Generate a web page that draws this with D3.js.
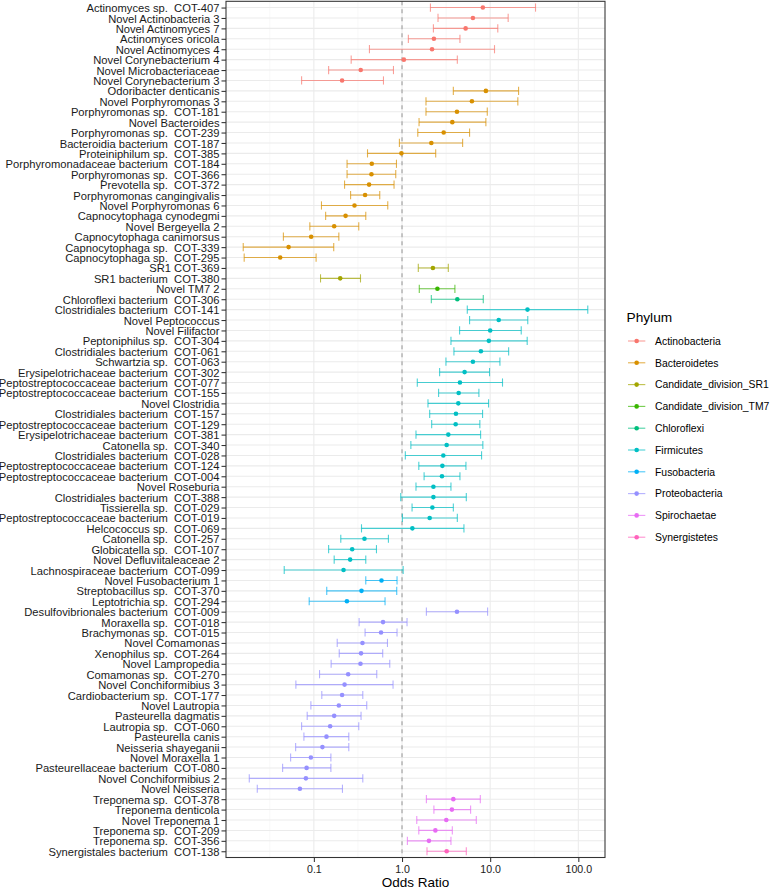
<!DOCTYPE html>
<html><head><meta charset="utf-8">
<script src="https://cdn.jsdelivr.net/npm/d3@7"></script>
<style>body{margin:0;background:#fff}svg{display:block}</style>
</head><body>
<script>
const taxa = ["Actinomyces sp.  COT-407","Novel Actinobacteria 3","Novel Actinomyces 7","Actinomyces oricola","Novel Actinomyces 4","Novel Corynebacterium 4","Novel Microbacteriaceae","Novel Corynebacterium 3",
"Odoribacter denticanis","Novel Porphyromonas 3","Porphyromonas sp.  COT-181","Novel Bacteroides","Porphyromonas sp.  COT-239","Bacteroidia bacterium  COT-187","Proteiniphilum sp.  COT-385","Porphyromonadaceae bacterium  COT-184","Porphyromonas sp.  COT-366","Prevotella sp.  COT-372","Porphyromonas cangingivalis","Novel Porphyromonas 6","Capnocytophaga cynodegmi","Novel Bergeyella 2","Capnocytophaga canimorsus","Capnocytophaga sp.  COT-339","Capnocytophaga sp.  COT-295",
"SR1 COT-369","SR1 bacterium  COT-380","Novel TM7 2","Chloroflexi bacterium  COT-306",
"Clostridiales bacterium  COT-141","Novel Peptococcus","Novel Filifactor","Peptoniphilus sp.  COT-304","Clostridiales bacterium  COT-061","Schwartzia sp.  COT-063","Erysipelotrichaceae bacterium  COT-302","Peptostreptococcaceae bacterium  COT-077","Peptostreptococcaceae bacterium  COT-155","Novel Clostridia","Clostridiales bacterium  COT-157","Peptostreptococcaceae bacterium  COT-129","Erysipelotrichaceae bacterium  COT-381","Catonella sp.  COT-340","Clostridiales bacterium  COT-028","Peptostreptococcaceae bacterium  COT-124","Peptostreptococcaceae bacterium  COT-004","Novel Roseburia","Clostridiales bacterium  COT-388","Tissierella sp.  COT-029","Peptostreptococcaceae bacterium  COT-019","Helcococcus sp.  COT-069","Catonella sp.  COT-257","Globicatella sp.  COT-107","Novel Defluviitaleaceae 2","Lachnospiraceae bacterium  COT-099",
"Novel Fusobacterium 1","Streptobacillus sp.  COT-370","Leptotrichia sp.  COT-294",
"Desulfovibrionales bacterium  COT-009","Moraxella sp.  COT-018","Brachymonas sp.  COT-015","Novel Comamonas","Xenophilus sp.  COT-264","Novel Lampropedia","Comamonas sp.  COT-270","Novel Conchiformibius 3","Cardiobacterium sp.  COT-177","Novel Lautropia","Pasteurella dagmatis","Lautropia sp.  COT-060","Pasteurella canis","Neisseria shayeganii","Novel Moraxella 1","Pasteurellaceae bacterium  COT-080","Novel Conchiformibius 2","Novel Neisseria",
"Treponema sp.  COT-378","Treponema denticola","Novel Treponema 1","Treponema sp.  COT-209","Treponema sp.  COT-356","Synergistales bacterium  COT-138"];

const phylumOf = [
"Actinobacteria","Actinobacteria","Actinobacteria","Actinobacteria","Actinobacteria","Actinobacteria","Actinobacteria","Actinobacteria",
"Bacteroidetes","Bacteroidetes","Bacteroidetes","Bacteroidetes","Bacteroidetes","Bacteroidetes","Bacteroidetes","Bacteroidetes","Bacteroidetes","Bacteroidetes","Bacteroidetes","Bacteroidetes","Bacteroidetes","Bacteroidetes","Bacteroidetes","Bacteroidetes","Bacteroidetes",
"Candidate_division_SR1","Candidate_division_SR1","Candidate_division_TM7","Chloroflexi",
"Firmicutes","Firmicutes","Firmicutes","Firmicutes","Firmicutes","Firmicutes","Firmicutes","Firmicutes","Firmicutes","Firmicutes","Firmicutes","Firmicutes","Firmicutes","Firmicutes","Firmicutes","Firmicutes","Firmicutes","Firmicutes","Firmicutes","Firmicutes","Firmicutes","Firmicutes","Firmicutes","Firmicutes","Firmicutes","Firmicutes",
"Fusobacteria","Fusobacteria","Fusobacteria",
"Proteobacteria","Proteobacteria","Proteobacteria","Proteobacteria","Proteobacteria","Proteobacteria","Proteobacteria","Proteobacteria","Proteobacteria","Proteobacteria","Proteobacteria","Proteobacteria","Proteobacteria","Proteobacteria","Proteobacteria","Proteobacteria","Proteobacteria","Proteobacteria",
"Spirochaetae","Spirochaetae","Spirochaetae","Spirochaetae","Spirochaetae","Synergistetes"];

const oddsRatio = [8.26,6.37,5.27,2.30,2.19,1.05,0.340,0.209,
8.94,6.21,4.20,3.72,2.97,2.15,0.985,0.454,0.450,0.423,0.381,0.289,0.229,0.170,0.0932,0.0517,0.0415,
2.24,0.199,2.52,4.24,
26.5,12.5,10.0,9.66,7.85,6.37,5.13,4.54,4.39,4.35,4.09,4.06,3.35,3.21,2.94,2.87,2.84,2.27,2.27,2.21,2.06,1.31,0.375,0.272,0.258,0.217,
0.585,0.347,0.237,
4.20,0.609,0.578,0.356,0.343,0.338,0.245,0.223,0.209,0.192,0.170,0.153,0.139,0.125,0.0925,0.0827,0.0812,0.0694,
3.82,3.68,3.18,2.39,2.02,3.21];

const ciLow = [2.10,2.56,2.27,1.18,0.427,0.265,0.147,0.0726,
3.82,1.87,1.87,1.56,1.51,0.934,0.406,0.238,0.238,0.223,0.261,0.122,0.136,0.090,0.0451,0.0158,0.0162,
1.53,0.119,1.57,2.15,
5.50,5.84,4.50,3.59,3.88,3.15,2.67,1.49,2.60,1.97,2.06,2.17,1.44,1.26,1.09,1.55,1.78,1.44,0.967,1.30,1.01,0.347,0.202,0.147,0.170,0.0461,
0.388,0.140,0.0885,
1.89,0.326,0.381,0.184,0.194,0.157,0.116,0.0625,0.123,0.0925,0.0840,0.0726,0.0771,0.0621,0.0545,0.0442,0.0185,0.0228,
1.89,2.30,1.47,1.55,1.15,1.92];

const ciHigh = [32.7,16.0,12.2,4.54,11.2,4.24,0.80,0.616,
21.0,20.6,9.27,8.94,5.84,4.87,2.41,0.865,0.849,0.812,0.559,0.689,0.388,0.323,0.192,0.168,0.106,
3.35,0.338,3.98,8.35,
128,26.7,22.5,26.3,16.2,12.9,9.84,13.8,7.45,9.59,8.20,7.64,7.79,8.26,7.99,5.31,4.54,3.59,5.36,3.82,4.24,5.04,0.701,0.513,0.388,1.03,
0.878,0.871,0.642,
9.35,1.14,0.878,0.684,0.604,0.726,0.517,0.791,0.359,0.398,0.343,0.323,0.249,0.249,0.156,0.156,0.359,0.211,
7.73,6.00,6.96,3.72,3.59,5.36];

const phyla = ["Actinobacteria","Bacteroidetes","Candidate_division_SR1","Candidate_division_TM7","Chloroflexi","Firmicutes","Fusobacteria","Proteobacteria","Spirochaetae","Synergistetes"];
const phylumColors = ["#F8766D","#D89000","#A3A500","#39B600","#00BF7D","#00BFC4","#00B0F6","#9590FF","#E76BF3","#FF62BC"];
const xTicks = [0.1, 1, 10, 100];
const xMinor = [Math.pow(10,-1.5), Math.pow(10,-0.5), Math.pow(10,0.5), Math.pow(10,1.5)];

const W = 778, H = 890;
const panel = {left: 226, right: 605, top: 1.3, bottom: 857.5};
const font = "'Liberation Sans', Arial, Helvetica, sans-serif";

const svg = d3.select("body").append("svg").attr("width", W).attr("height", H);

const lmin = Math.log10(d3.min(ciLow)), lmax = Math.log10(d3.max(ciHigh));
const ex = (lmax - lmin) * 0.05;
const x = d3.scaleLog().domain([Math.pow(10, lmin - ex), Math.pow(10, lmax + ex)]).range([panel.left, panel.right]);
const y = d3.scalePoint().domain(taxa).range([panel.top, panel.bottom]).padding(0.6);
const color = d3.scaleOrdinal().domain(phyla).range(phylumColors);

const data = taxa.map((t, i) => ({name: t, phylum: phylumOf[i], or: oddsRatio[i], lo: ciLow[i], hi: ciHigh[i]}));

const g = svg.append("g");
g.selectAll(".minor").data(xMinor).join("line")
  .attr("x1", d => x(d)).attr("x2", d => x(d)).attr("y1", panel.top).attr("y2", panel.bottom)
  .attr("stroke", "#F3F3F3").attr("stroke-width", 0.55);
g.selectAll(".hgrid").data(taxa).join("line")
  .attr("x1", panel.left).attr("x2", panel.right).attr("y1", d => y(d)).attr("y2", d => y(d))
  .attr("stroke", "#EBEBEB").attr("stroke-width", 1.07);
g.selectAll(".major").data(xTicks).join("line")
  .attr("x1", d => x(d)).attr("x2", d => x(d)).attr("y1", panel.top).attr("y2", panel.bottom)
  .attr("stroke", "#EBEBEB").attr("stroke-width", 1.07);

g.append("line").attr("x1", x(1)).attr("x2", x(1)).attr("y1", panel.top).attr("y2", panel.bottom)
  .attr("stroke", "#9E9E9E").attr("stroke-width", 1.1).attr("stroke-dasharray", "4,4");

const cap = 4.1;
const eb = g.selectAll(".eb").data(data).join("g").attr("stroke", d => color(d.phylum)).attr("stroke-opacity", 0.7).attr("stroke-width", 1.1);
eb.append("line").attr("x1", d => x(d.lo)).attr("x2", d => x(d.hi)).attr("y1", d => y(d.name)).attr("y2", d => y(d.name));
eb.append("line").attr("x1", d => x(d.lo)).attr("x2", d => x(d.lo)).attr("y1", d => y(d.name) - cap).attr("y2", d => y(d.name) + cap);
eb.append("line").attr("x1", d => x(d.hi)).attr("x2", d => x(d.hi)).attr("y1", d => y(d.name) - cap).attr("y2", d => y(d.name) + cap);
g.selectAll(".pt").data(data).join("circle")
  .attr("cx", d => x(d.or)).attr("cy", d => y(d.name)).attr("r", 2.3).attr("fill", d => color(d.phylum));

g.append("rect").attr("x", panel.left).attr("y", panel.top).attr("width", panel.right - panel.left).attr("height", panel.bottom - panel.top)
  .attr("fill", "none").attr("stroke", "#333333").attr("stroke-width", 1.07);

const yAxis = svg.append("g").attr("transform", `translate(${panel.left},0)`)
  .call(d3.axisLeft(y).tickSize(4.5).tickPadding(2));
yAxis.select(".domain").remove();
yAxis.selectAll(".tick line").attr("stroke", "#333333").attr("stroke-width", 1.07);
yAxis.selectAll(".tick text").attr("fill", "#1a1a1a").style("font-family", font).style("font-size", "11.2px").attr("dy", "0.36em")
  .style("white-space", "pre");

const xAxis = svg.append("g").attr("transform", `translate(0,${panel.bottom})`)
  .call(d3.axisBottom(x).tickValues(xTicks).tickFormat(d3.format(".1f")).tickSize(4.5).tickPadding(3));
xAxis.select(".domain").remove();
xAxis.selectAll(".tick line").attr("stroke", "#333333").attr("stroke-width", 1.07);
xAxis.selectAll(".tick text").attr("fill", "#1a1a1a").style("font-family", font).style("font-size", "10.6px")
  .attr("y", 15).attr("dy", null);

svg.append("text").attr("x", (panel.left + panel.right) / 2).attr("y", 886.5).attr("text-anchor", "middle")
  .style("font-family", font).style("font-size", "13.5px").attr("fill", "#000").text("Odds Ratio");

const leg = svg.append("g");
leg.append("text").attr("x", 626.5).attr("y", 317).attr("dy", "0.36em").style("font-family", font).style("font-size", "13.7px").text("Phylum");
const items = leg.selectAll(".li").data(phyla).join("g").attr("transform", (d, i) => `translate(628,${341 + i * 21.8})`);
items.append("line").attr("x1", 0).attr("x2", 17.3).attr("y1", 0).attr("y2", 0)
  .attr("stroke", d => color(d)).attr("stroke-opacity", 0.7).attr("stroke-width", 1.1);
items.append("circle").attr("cx", 8.65).attr("cy", 0).attr("r", 2.3).attr("fill", d => color(d));
items.append("text").attr("x", 27).attr("y", 0).attr("dy", "0.36em").style("font-family", font).style("font-size", "10.4px").attr("fill", "#000").text(d => d);
</script>
</body></html>
